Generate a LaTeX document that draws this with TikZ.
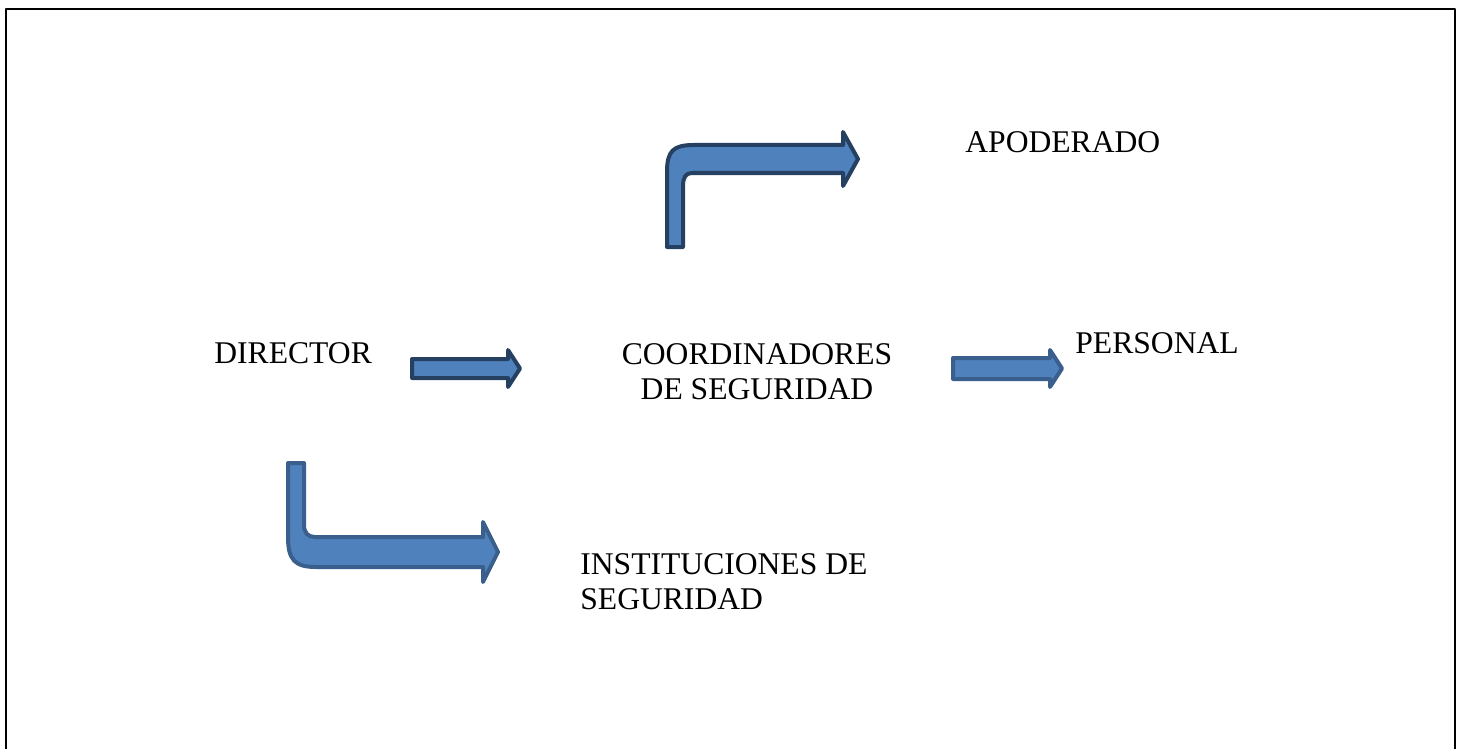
\documentclass[tikz,border=0pt]{standalone}
\usepackage{fontspec}
\setmainfont{Liberation Serif}
\usepackage{tikz}
\definecolor{arrow_blue}{RGB}{79,129,189}
\definecolor{edge_navy}{RGB}{38,64,98}
\definecolor{edge_steel}{RGB}{58,95,140}

\begin{document}
\begin{tikzpicture}[x=0.5pt,y=-0.5pt,line join=round]
    \tikzstyle{label}=[inner sep=0pt, font=\fontsize{15.8}{17.8}\selectfont, text=black]
    \tikzstyle{navy}=[draw=edge_navy, fill=arrow_blue, line width=2pt]
    \tikzstyle{steel}=[draw=edge_steel, fill=arrow_blue, line width=2pt]

    \useasboundingbox (0,0) rectangle (1462,749);
    \draw[line width=1.3pt] (6,749) -- (6,9) -- (1455,9) -- (1455,749);

    \node[label, anchor=base west]  (dir)  at (214,363) {DIRECTOR};
    \node[label, anchor=north, align=center] (coord) at (757,343) {COORDINADORES\\DE SEGURIDAD};
    \node[label, anchor=base west]  (apo)  at (965,153) {APODERADO};
    \node[label, anchor=base west]  (pers) at (1075,353) {PERSONAL};
    \node[label, anchor=north west, align=left] (inst) at (580,553) {INSTITUCIONES DE\\SEGURIDAD};

    % bent arrow up to apoderado
    \draw[navy] (667,247) -- (667,172) .. controls (667,151) and (673,145) .. (694,145)
        -- (843,145) -- (843,132) -- (858,159) -- (843,186) -- (843,173) -- (692,173)
        .. controls (686,173) and (683,177) .. (683,186) -- (683,247) -- cycle;
    % director -> coordinadores
    \draw[navy] (412,359) -- (508,359) -- (508,350) -- (520,368.5) -- (508,387) -- (508,378) -- (412,378) -- cycle;
    % coordinadores -> personal
    \draw[steel] (953,358) -- (1050,358) -- (1050,350) -- (1062,368.5) -- (1050,387) -- (1050,379) -- (953,379) -- cycle;
    % bent arrow down to instituciones
    \draw[steel] (288,463) -- (288,537) .. controls (288,560) and (295,567) .. (316,567)
        -- (483,567) -- (483,582) -- (498,552) -- (483,522) -- (483,537) -- (315,537)
        .. controls (308,537) and (304,533) .. (304,525) -- (304,463) -- cycle;
\end{tikzpicture}
\end{document}
